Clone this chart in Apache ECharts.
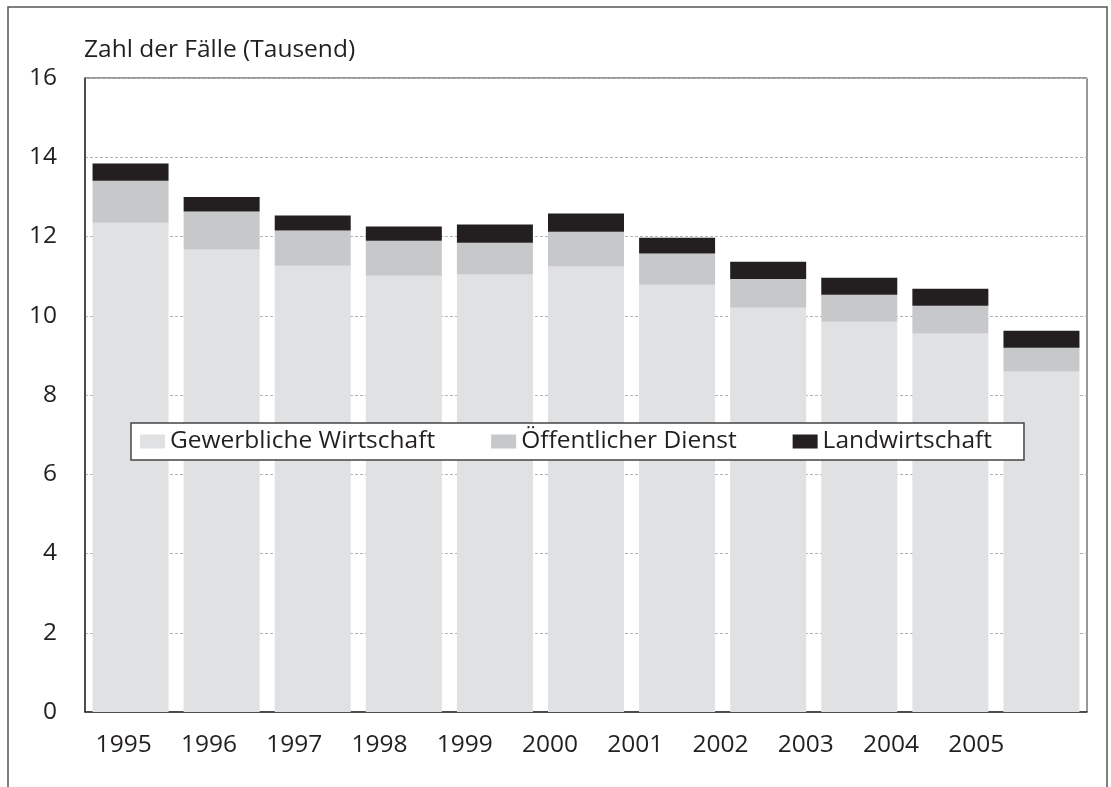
<!DOCTYPE html>
<html lang="de">
<head>
    <meta charset="UTF-8">
    <title>Zahl der Fälle</title>
    <style>
        body {
            margin: 0;
            background: #fff;
        }
        #chart {
            width: 1111px;
            height: 787px;
        }
    </style>
</head>
<body>
    <div id="chart"></div>
    <script src="https://cdn.jsdelivr.net/npm/echarts@6/dist/echarts.min.js"></script>
    <script>
        const years = ['1995', '1996', '1997', '1998', '1999', '2000', '2001', '2002', '2003', '2004', '2005'];
        const gewerbe = [12.35, 11.67, 11.26, 11.01, 11.04, 11.24, 10.78, 10.20, 9.85, 9.55, 8.59];
        const oeffentlich = [1.06, 0.96, 0.89, 0.88, 0.80, 0.88, 0.79, 0.73, 0.68, 0.70, 0.60];
        const landwirtschaft = [0.43, 0.37, 0.38, 0.36, 0.46, 0.46, 0.40, 0.43, 0.43, 0.43, 0.43];

        const font = '"Open Sans", "Noto Sans", sans-serif';
        const ink = '#231f20';
        const fs = 24.5;

        const chart = echarts.init(document.getElementById('chart'));
        chart.setOption({
            animation: false,
            textStyle: { fontFamily: font, color: ink },
            title: {
                text: 'Zahl der Fälle (Tausend)',
                left: 84,
                top: 38,
                padding: 0,
                textStyle: { fontFamily: font, fontSize: fs, fontWeight: 'normal', color: ink },
            },
            graphic: [
                {
                    type: 'rect',
                    silent: true,
                    shape: { x: 8, y: 7, width: 1099, height: 820 },
                    style: { fill: 'none', stroke: '#555', lineWidth: 1.5 },
                },
            ],
            legend: {
                left: 131,
                top: 423,
                itemWidth: 25,
                itemHeight: 14,
                itemGap: 56,
                padding: [6, 32, 6, 9],
                backgroundColor: '#fff',
                borderColor: '#444',
                borderWidth: 1.5,
                borderRadius: 0,
                icon: 'rect',
                textStyle: { fontFamily: font, fontSize: fs, color: ink },
                data: ['Gewerbliche Wirtschaft', 'Öffentlicher Dienst', 'Landwirtschaft'],
            },
            grid: [
                {
                    left: 85,
                    right: 24,
                    top: 78,
                    bottom: 75,
                    show: true,
                    borderColor: '#333',
                    borderWidth: 1,
                },
                {
                    // label row of the original sits a little left of the bars
                    left: 81,
                    width: 938,
                    top: 78,
                    bottom: 75,
                },
            ],
            xAxis: [
                {
                    type: 'category',
                    gridIndex: 0,
                    data: years,
                    axisLine: { lineStyle: { color: '#333', width: 1.5 } },
                    axisTick: { show: false },
                    axisLabel: { show: false },
                },
                {
                    type: 'category',
                    gridIndex: 1,
                    data: years,
                    axisLine: { show: false },
                    axisTick: { show: false },
                    axisLabel: { fontFamily: font, fontSize: fs, color: ink, margin: 21 },
                },
            ],
            yAxis: [
                {
                    type: 'value',
                    gridIndex: 0,
                    min: 0,
                    max: 16,
                    interval: 2,
                    axisLine: { show: true, lineStyle: { color: '#333', width: 1.5 } },
                    axisTick: { show: false },
                    axisLabel: { fontFamily: font, fontSize: fs, color: ink, margin: 28 },
                    splitLine: { lineStyle: { color: '#b3b3b3', type: [3, 2], width: 1 } },
                },
                {
                    type: 'value',
                    gridIndex: 1,
                    show: false,
                    min: 0,
                    max: 16,
                },
            ],
            series: [
                {
                    name: 'Gewerbliche Wirtschaft',
                    type: 'bar',
                    stack: 'total',
                    barWidth: 76,
                    itemStyle: { color: '#e0e1e3' },
                    data: gewerbe,
                },
                {
                    name: 'Öffentlicher Dienst',
                    type: 'bar',
                    stack: 'total',
                    itemStyle: { color: '#c7c8ca' },
                    data: oeffentlich,
                },
                {
                    name: 'Landwirtschaft',
                    type: 'bar',
                    stack: 'total',
                    itemStyle: { color: ink },
                    data: landwirtschaft,
                },
            ],
        });
    </script>
</body>
</html>
